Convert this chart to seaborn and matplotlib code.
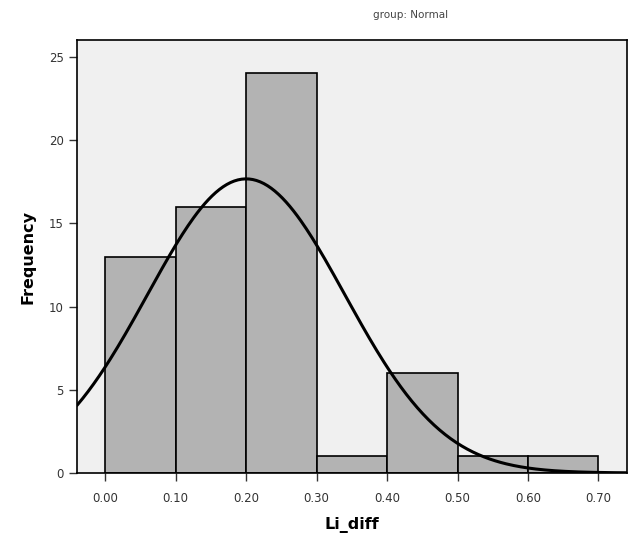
import numpy as np
import pandas as pd
import seaborn as sns
import matplotlib.pyplot as plt

# histogram bins (Li_diff) and counts, group: Normal
bin_edges = [0.0, 0.1, 0.2, 0.3, 0.4, 0.5, 0.6, 0.7]
counts = [13, 16, 24, 1, 6, 1, 1]
# fitted normal curve parameters
fit_mean = 0.200
fit_sd = 0.14
n_total = sum(counts)
bin_width = 0.1

xticks = [0.0, 0.1, 0.2, 0.3, 0.4, 0.5, 0.6, 0.7]
xtick_labels = ["0.00", "0.10", "0.20", "0.30", "0.40", "0.50", "0.60", "0.70"]
yticks = [0, 5, 10, 15, 20, 25]

sns.set_style("ticks")
plt.rcParams['font.family'] = ['DejaVu Sans']

fig = plt.figure(figsize=(6.34, 5.43), dpi=100)
ax = fig.add_axes([0.1215, 0.129, 0.868, 0.797])
ax.set_facecolor("#f0f0f0")

mids = [(bin_edges[i] + bin_edges[i + 1]) / 2 for i in range(len(counts))]
df = pd.DataFrame({"Li_diff": mids, "count": counts})
sns.histplot(data=df, x="Li_diff", weights="count", bins=bin_edges,
             color="#b3b3b3", edgecolor="black", linewidth=1.2, alpha=1, ax=ax)

xs = np.linspace(-0.04, 0.745, 300)
ys = n_total * bin_width / (fit_sd * np.sqrt(2 * np.pi)) * np.exp(-0.5 * ((xs - fit_mean) / fit_sd) ** 2)
sns.lineplot(x=xs, y=ys, color="black", linewidth=2.2, ax=ax)

ax.set_xlim(-0.04, 0.741)
ax.set_ylim(0, 26.0)
ax.set_xticks(xticks)
ax.set_xticklabels(xtick_labels)
ax.set_yticks(yticks)
ax.tick_params(axis="both", labelsize=8.5, colors="#333333", length=6, width=1, direction="out")
ax.tick_params(axis="x", pad=8)
for s in ax.spines.values():
    s.set_color("black")
    s.set_linewidth(1.2)

ax.set_xlabel("Li_diff", fontsize=11.5, fontweight="bold", labelpad=8, color="black")
ax.set_ylabel("Frequency", fontsize=11.5, fontweight="bold", labelpad=10, color="black")
fig.text(0.647, 0.972, "group: Normal", fontsize=7.5, color="#444444", ha="center", va="center")

fig.savefig("out.png", dpi=100)
